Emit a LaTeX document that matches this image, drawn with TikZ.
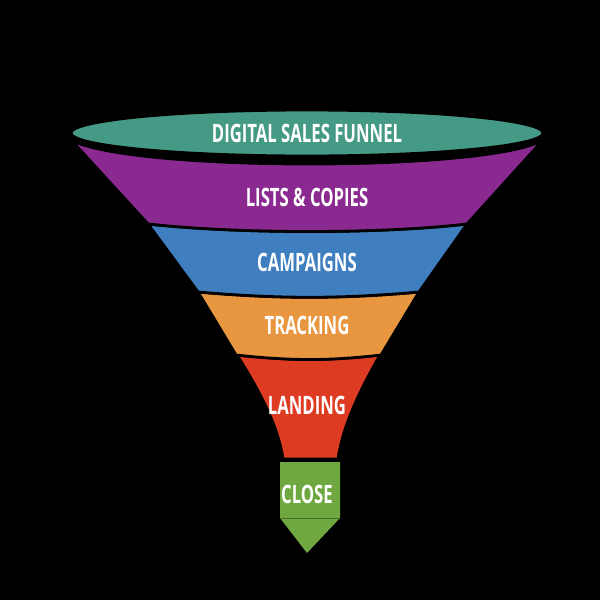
\documentclass[tikz,border=0pt]{standalone}
\usepackage{fontspec}
\setmainfont{Open Sans}[FakeStretch=0.66]
\definecolor{funTeal}{HTML}{459A85}
\definecolor{funPurple}{HTML}{8A2A91}
\definecolor{funBlue}{HTML}{3F7FBF}
\definecolor{funOrange}{HTML}{E8963F}
\definecolor{funRed}{HTML}{DE3C22}
\definecolor{funGreen}{HTML}{6FA840}
\begin{document}
\begin{tikzpicture}[
	x=0.025cm, y=-0.025cm,
	band/.style={draw=black, line width=2pt},
	lbl/.style={text=white, font=\fontsize{18}{18}\selectfont\bfseries, inner sep=0pt}
]
\fill[black] (0,0) rectangle (600,600);
\useasboundingbox (0,0) rectangle (600,600);

% green tip
\fill[funGreen] (280,462) rectangle (340,518) (280,518) -- (340,518) -- (307,553) -- cycle;
\draw[black!35!funGreen, line width=0.5pt] (280,518) -- (340,518);
% red
\draw[band, fill=funRed] (237,355) .. controls (300,361) and (320,361) .. (380,355)
	.. controls (360,390) and (343,425) .. (338,459) -- (283,459)
	.. controls (278,425) and (259,390) .. (237,355) -- cycle;
% orange
\draw[band, fill=funOrange] (198,292) .. controls (280,299) and (340,299) .. (419,292)
	-- (381,355) .. controls (330,361) and (290,361) .. (236,355) -- cycle;
% blue
\draw[band, fill=funBlue] (148,224) .. controls (240,234) and (380,234) .. (467,224)
	-- (419,292) .. controls (340,299) and (280,299) .. (198,292) -- cycle;
% purple
\draw[band, fill=funPurple] (71,140) .. controls (130,172) and (490,172) .. (543,140)
	-- (467,224) .. controls (380,234) and (240,234) .. (148,224) -- cycle;
% teal top
\draw[band, fill=funTeal] (307,133) ellipse [x radius=236, y radius=23];

\node[lbl] (top) at (307,133) {DIGITAL SALES FUNNEL};
\node[lbl] (lists) at (307,197) {LISTS \& COPIES};
\node[lbl] (camp) at (307,262) {CAMPAIGNS};
\node[lbl] (track) at (307,325) {TRACKING};
\node[lbl] (land) at (307,405) {LANDING};
\node[lbl] (close) at (307,494) {CLOSE};
\end{tikzpicture}
\end{document}
